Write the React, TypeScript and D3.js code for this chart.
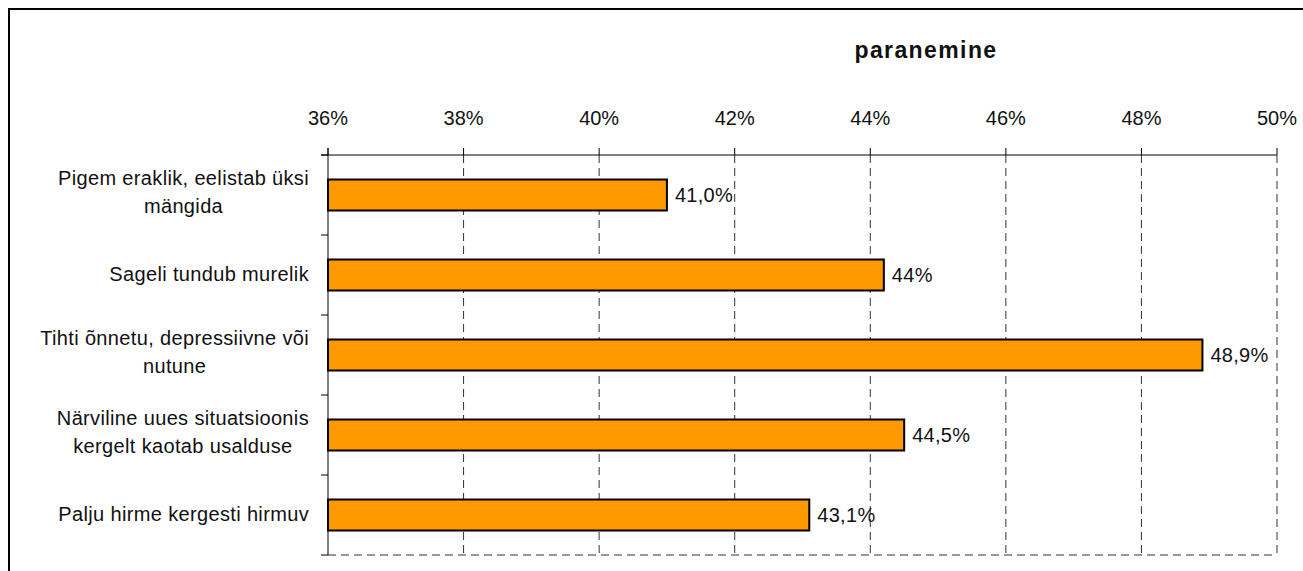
import React, { useEffect, useRef } from "react";
import * as d3 from "d3";

const categories: string[][] = [
  ["Pigem eraklik, eelistab üksi", "mängida"],
  ["Sageli tundub murelik"],
  ["Tihti õnnetu, depressiivne või", "nutune"],
  ["Närviline uues situatsioonis", "kergelt kaotab usalduse"],
  ["Palju hirme kergesti hirmuv"],
];
const values: number[] = [41.0, 44.2, 48.9, 44.5, 43.1];
const valueLabels: string[] = ["41,0%", "44%", "48,9%", "44,5%", "43,1%"];
const ticks: number[] = [36, 38, 40, 42, 44, 46, 48, 50];
const tickLabels: string[] = ["36%", "38%", "40%", "42%", "44%", "46%", "48%", "50%"];
const title = "paranemine";

const FONT = "'Liberation Sans', Arial, Helvetica, sans-serif";

export default function App() {
  const ref = useRef<SVGSVGElement | null>(null);

  useEffect(() => {
    const svg = d3.select(ref.current);
    svg.selectAll("*").remove();
    const g = svg.append("g");

    const left = 328, right = 1277, top = 155, bottom = 555;
    const x = d3.scaleLinear().domain([36, 50]).range([left, right]);
    const keys = categories.map((_, i) => String(i));
    const y = d3
      .scaleBand<string>()
      .domain(keys)
      .range([top, bottom])
      .paddingInner(0.6125)
      .paddingOuter(0.30625);
    const step = y.step();

    // outer border (right/bottom edges lie outside the view)
    g.append("rect")
      .attr("x", 9)
      .attr("y", 9)
      .attr("width", 1400)
      .attr("height", 700)
      .attr("fill", "white")
      .attr("stroke", "black")
      .attr("stroke-width", 2);

    // title
    g.append("text")
      .attr("x", 926)
      .attr("y", 58)
      .attr("text-anchor", "middle")
      .attr("font-family", FONT)
      .attr("font-size", 23)
      .attr("font-weight", "bold")
      .attr("letter-spacing", 1.4)
      .attr("fill", "#111")
      .text(title);

    // gridlines (dashed)
    ticks.slice(1).forEach((t) => {
      g.append("line")
        .attr("x1", x(t))
        .attr("x2", x(t))
        .attr("y1", top)
        .attr("y2", bottom)
        .attr("stroke", "#333")
        .attr("stroke-width", 1)
        .attr("stroke-dasharray", "8,5");
    });
    // bottom dashed line
    g.append("line")
      .attr("x1", left)
      .attr("x2", right)
      .attr("y1", bottom)
      .attr("y2", bottom)
      .attr("stroke", "#333")
      .attr("stroke-width", 1)
      .attr("stroke-dasharray", "8,5");

    // top axis
    g.append("line")
      .attr("x1", left - 7)
      .attr("x2", right)
      .attr("y1", top)
      .attr("y2", top)
      .attr("stroke", "black")
      .attr("stroke-width", 1);
    ticks.forEach((t, i) => {
      g.append("line")
        .attr("x1", x(t))
        .attr("x2", x(t))
        .attr("y1", top - 7)
        .attr("y2", top)
        .attr("stroke", "black")
        .attr("stroke-width", 1);
      g.append("text")
        .attr("x", x(t))
        .attr("y", 125)
        .attr("text-anchor", "middle")
        .attr("font-family", FONT)
        .attr("font-size", 20)
        .attr("fill", "#111")
        .text(tickLabels[i]);
    });

    // left axis
    g.append("line")
      .attr("x1", left)
      .attr("x2", left)
      .attr("y1", top - 7)
      .attr("y2", bottom)
      .attr("stroke", "black")
      .attr("stroke-width", 1);
    for (let i = 0; i <= categories.length; i++) {
      const yy = top + i * step;
      g.append("line")
        .attr("x1", left - 7)
        .attr("x2", left)
        .attr("y1", yy)
        .attr("y2", yy)
        .attr("stroke", "black")
        .attr("stroke-width", 1);
    }

    // bars
    keys.forEach((k, i) => {
      const by = y(k) as number;
      g.append("rect")
        .attr("x", x(36))
        .attr("y", by)
        .attr("width", x(values[i]) - x(36))
        .attr("height", y.bandwidth())
        .attr("fill", "#FF9900")
        .attr("stroke", "black")
        .attr("stroke-width", 2);
      const c = by + y.bandwidth() / 2;
      g.append("text")
        .attr("x", x(values[i]) + 8)
        .attr("y", c + 6.5)
        .attr("font-family", FONT)
        .attr("font-size", 20)
        .attr("letter-spacing", 0.3)
        .attr("fill", "#111")
        .text(valueLabels[i]);
    });

    // category labels (centered lines in a right-aligned block)
    categories.forEach((lines, i) => {
      const c = top + (i + 0.5) * step;
      const n = lines.length;
      const texts = lines.map((ln, j) =>
        g
          .append("text")
          .attr("y", c + 6 + (j - (n - 1) / 2) * 28.5 - (n > 1 ? 2 : 0))
          .attr("text-anchor", "middle")
          .attr("font-family", FONT)
          .attr("font-size", 20)
          .attr("letter-spacing", 0.35)
          .attr("fill", "#111")
          .text(ln)
      );
      const widths = texts.map((t) => (t.node() as SVGTextElement).getComputedTextLength());
      const w = Math.max(...widths);
      const cx = 309 - w / 2;
      texts.forEach((t) => t.attr("x", cx));
    });
  }, []);

  return (
    <svg
      ref={ref}
      width={1303}
      height={571}
      style={{ position: "absolute", left: 0, top: 0, display: "block", overflow: "hidden" }}
    />
  );
}
